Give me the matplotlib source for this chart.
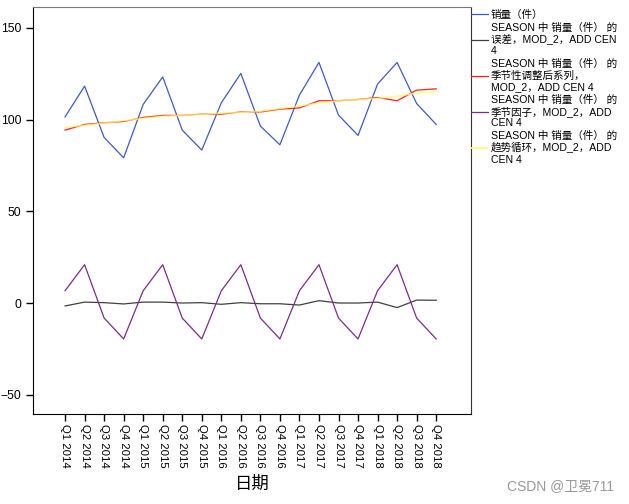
import matplotlib.pyplot as plt
import numpy as np

plt.rcParams['font.family'] = ['Liberation Sans', 'Noto Sans CJK SC']

quarters = ['Q1 2014', 'Q2 2014', 'Q3 2014', 'Q4 2014',
            'Q1 2015', 'Q2 2015', 'Q3 2015', 'Q4 2015',
            'Q1 2016', 'Q2 2016', 'Q3 2016', 'Q4 2016',
            'Q1 2017', 'Q2 2017', 'Q3 2017', 'Q4 2017',
            'Q1 2018', 'Q2 2018', 'Q3 2018', 'Q4 2018']

sales = [101.5, 118.3, 90.3, 79.2, 108.3, 123.3, 94.3, 83.4, 109.2, 125.2,
         96.5, 86.3, 113.4, 131.2, 102.5, 91.4, 119.4, 131.2, 108.8, 97.4]
error = [-1.6, 0.5, 0.2, -0.5, 0.5, 0.5, 0.0, 0.2, -0.7, 0.2,
         -0.4, -0.4, -1.1, 1.3, 0.0, 0.0, 0.5, -2.5, 1.6, 1.5]
adjusted = [94.3, 97.4, 98.3, 99.0, 101.2, 102.3, 102.3, 103.0, 103.0, 104.2,
            104.2, 105.7, 106.4, 110.3, 110.3, 111.0, 112.1, 110.3, 116.1, 116.8]
seasonal = [6.7, 20.9, -8.2, -19.6, 6.7, 20.9, -8.2, -19.6, 6.7, 20.9,
            -8.2, -19.6, 6.7, 20.9, -8.2, -19.6, 6.7, 20.9, -8.2, -19.6]
trend = [95.9, 96.9, 98.1, 99.5, 100.7, 101.8, 102.3, 102.8, 103.6, 103.9,
         104.6, 106.1, 107.5, 109.0, 110.3, 111.0, 111.6, 112.8, 114.5, 115.3]

labels = ['销量（件）',
          'SEASON 中 销量（件） 的\n误差，MOD_2，ADD CEN\n4',
          'SEASON 中 销量（件） 的\n季节性调整后系列，\nMOD_2，ADD CEN 4',
          'SEASON 中 销量（件） 的\n季节因子，MOD_2，ADD\nCEN 4',
          'SEASON 中 销量（件） 的\n趋势循环，MOD_2，ADD\nCEN 4']
colors = ['#3F5BBF', '#404040', '#FF2020', '#7B2D8B', '#FFFF70']

fig = plt.figure(figsize=(6.29, 5.04), dpi=100)
ax = fig.add_axes([0.0525, 0.179, 0.6965, 0.807])

x = np.arange(len(quarters))
series = [sales, error, adjusted, seasonal, trend]
lines = {}
for i in [0, 1, 3, 2, 4]:
    alpha = 0.75 if i == 4 else 1.0
    lw = 1.2 if i == 4 else 0.9
    lines[i], = ax.plot(x, series[i], color=colors[i], lw=lw, alpha=alpha)

ax.set_xlim(-1.64, 20.79)
ax.set_ylim(-60.4, 161.4)
ax.set_yticks([-50, 0, 50, 100, 150])
ax.set_xticks(x)
ax.set_xticklabels(quarters, rotation=270, fontsize=8.2)
ax.tick_params(axis='y', labelsize=8.7, length=5, width=1)
ax.tick_params(axis='x', length=5, width=1, pad=2)
ax.set_xlabel('日期', fontsize=12.5, labelpad=6)
ax.spines['top'].set_color('#777777')
ax.spines['right'].set_color('#333333')

leg = ax.legend([lines[i] for i in range(5)], labels, loc='upper left',
                bbox_to_anchor=(1.0, 0.993), frameon=False, fontsize=7.6,
                handlelength=1.6, handletextpad=0.25, borderaxespad=0,
                borderpad=0, labelspacing=0.25)
for t in leg.get_texts():
    t.set_linespacing(1.16)
for h in leg.legend_handles:
    h.set_alpha(1.0)

fig.text(0.976, 0.022, 'CSDN @卫冕711', ha='right', va='bottom',
         fontsize=10, color='#999999')

fig.savefig('out.png', dpi=100)
